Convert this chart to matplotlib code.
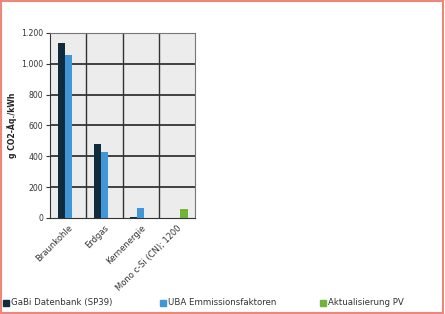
import numpy as np
import matplotlib
matplotlib.use('Agg')
import matplotlib.pyplot as plt
from matplotlib.patches import Rectangle
from matplotlib.ticker import FuncFormatter

# data
categories = ['Braunkohle', 'Erdgas', 'Kernenergie', 'Mono c-Si (CN); 1200']
series = ['GaBi Datenbank (SP39)', 'UBA Emmissionsfaktoren', 'Aktualisierung PV']
gabi = [1135, 482, 8, 0]
uba = [1055, 430, 65, 0]
pv = [0, 0, 0, 55]
colors = ['#0f2b3c', '#3f97d8', '#72b33a']

fig = plt.figure(figsize=(4.45, 3.14), dpi=100)
ax = fig.add_axes([0.113, 0.306, 0.325, 0.589])
ax.set_facecolor('#ececec')

x = np.arange(len(categories))
w = 0.2
for i, (vals, c, lab) in enumerate(zip([gabi, uba, pv], colors, series)):
    ax.bar(x + (i - 1) * w, vals, w, color=c, label=lab, zorder=3)

ax.set_xlim(-0.5, len(categories) - 0.5)
ax.set_ylim(0, 1200)
ax.set_yticks(range(0, 1201, 200))
ax.yaxis.set_major_formatter(FuncFormatter(lambda v, p: f'{int(v):,}'.replace(',', '.')))
ax.set_xticks(x)
ax.set_xticklabels(categories, rotation=45, ha='right', rotation_mode='anchor', fontsize=6, color='#333333')
ax.tick_params(axis='y', labelsize=5.6, colors='#333333', length=3, pad=2)
ax.tick_params(axis='x', length=0, pad=4)

# grid: horizontal at ticks, vertical between categories
for yv in range(200, 1201, 200):
    ax.axhline(yv, color='#333333', lw=1.3, zorder=1)
for xv in np.arange(0.5, len(categories) - 0.5, 1):
    ax.axvline(xv, color='#333333', lw=1.0, zorder=1)
for s in ['top', 'right']:
    ax.spines[s].set_color('#777777')
ax.spines['left'].set_color('#333333')
ax.spines['bottom'].set_color('#333333')

ax.set_ylabel('g CO2-Äq./kWh', fontsize=5.6, fontweight='bold', color='#222222', labelpad=3)

# legend along the bottom
handles, labels = ax.get_legend_handles_labels()
xs = [0.007, 0.36, 0.72]
for h, l, xp, c in zip(handles, labels, xs, colors):
    fig.patches.append(Rectangle((xp, 0.025), 0.013, 0.02, transform=fig.transFigure, color=c))
    fig.text(xp + 0.018, 0.036, l, fontsize=6.2, color='#333333', va='center')

fig.patches.append(Rectangle((0.003, 0.004), 0.993, 0.992, transform=fig.transFigure,
                             fill=False, edgecolor='#f0857a', lw=1.5))

fig.savefig('out.png', dpi=100)
